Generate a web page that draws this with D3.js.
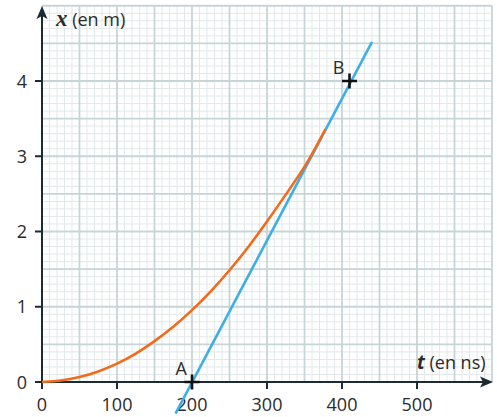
<!DOCTYPE html>
<html>
<head>
<meta charset="utf-8">
<script src="https://cdn.jsdelivr.net/npm/d3@7"></script>
<style>
  body { margin: 0; background: #fff; }
  text { font-family: 'Open Sans', 'Noto Sans', sans-serif; fill: #2b2b2b; }
</style>
</head>
<body>
<svg id="chart" width="497" height="417"></svg>
<script>
// Data
var t_ticks = [0, 100, 200, 300, 400, 500]
var x_ticks = [0, 1, 2, 3, 4]

// orange curve, x(t)
var curve_t = [0, 25, 50, 75, 100, 125, 150, 175, 200, 225, 250, 275, 300, 325, 350, 364, 378]
var curve_x = [0, 0.015, 0.06, 0.135, 0.24, 0.37, 0.54, 0.73, 0.95, 1.2, 1.48, 1.79, 2.13, 2.49, 2.85, 3.1, 3.36]

// blue tangent line (ends)
var tangent_t = [178, 440]
var tangent_x = [-0.42, 4.52]

// marked points
var point_names = ['A', 'B']
var point_t = [200, 410]
var point_x = [0, 4]

// Scales
var t_scale = d3.scaleLinear().domain([0, 600]).range([42, 492])
var x_scale = d3.scaleLinear().domain([0, 5]).range([382, 5.75])

var svg = d3.select('#chart')

// Grid: minor then major
var minor_t = d3.range(0, 601, 10)
var minor_x = d3.range(0, 5.001, 0.1)
var major_t = d3.range(0, 601, 50)
var major_x = d3.range(0, 5.001, 0.5)

var grid = svg.append('g')
function draw_grid(t_vals, x_vals, color, width) {
  grid.selectAll(null).data(t_vals).enter().append('line')
    .attr('x1', d => t_scale(d)).attr('x2', d => t_scale(d))
    .attr('y1', x_scale(0)).attr('y2', x_scale(5))
    .attr('stroke', color).attr('stroke-width', width)
  grid.selectAll(null).data(x_vals).enter().append('line')
    .attr('x1', t_scale(0)).attr('x2', t_scale(600))
    .attr('y1', d => x_scale(d)).attr('y2', d => x_scale(d))
    .attr('stroke', color).attr('stroke-width', width)
}
draw_grid(minor_t, minor_x, '#e1e9eb', 1)
draw_grid(major_t, major_x, '#c8d5d8', 1.8)

// Axes
var axis_color = '#1c2b33'
var axes = svg.append('g')
axes.append('line')
  .attr('x1', t_scale(0)).attr('x2', 484)
  .attr('y1', x_scale(0)).attr('y2', x_scale(0))
  .attr('stroke', axis_color).attr('stroke-width', 2)
axes.append('line')
  .attr('x1', t_scale(0)).attr('x2', t_scale(0))
  .attr('y1', x_scale(0) + 1).attr('y2', 13)
  .attr('stroke', axis_color).attr('stroke-width', 2)

// arrow heads
var ox = t_scale(0), oy = x_scale(0)
axes.append('path')
  .attr('d', 'M493,' + oy + ' L480,' + (oy - 5.5) + ' L483,' + oy + ' L480,' + (oy + 5.5) + ' Z')
  .attr('fill', axis_color)
axes.append('path')
  .attr('d', 'M' + ox + ',6 L' + (ox - 5.5) + ',19 L' + ox + ',16 L' + (ox + 5.5) + ',19 Z')
  .attr('fill', axis_color)

// ticks
axes.selectAll(null).data(t_ticks).enter().append('line')
  .attr('x1', d => t_scale(d)).attr('x2', d => t_scale(d))
  .attr('y1', oy).attr('y2', oy + 7)
  .attr('stroke', axis_color).attr('stroke-width', 2)
axes.selectAll(null).data(x_ticks).enter().append('line')
  .attr('x1', ox - 7).attr('x2', ox)
  .attr('y1', d => x_scale(d)).attr('y2', d => x_scale(d))
  .attr('stroke', axis_color).attr('stroke-width', 2)

// tick labels
axes.selectAll(null).data(t_ticks).enter().append('text')
  .text(d => d)
  .attr('x', d => t_scale(d))
  .attr('y', 411)
  .attr('text-anchor', 'middle')
  .style('font-size', '18px')
axes.selectAll(null).data(x_ticks).enter().append('text')
  .text(d => d)
  .attr('x', 27)
  .attr('y', d => x_scale(d) + 6.5)
  .attr('text-anchor', 'end')
  .style('font-size', '18px')

// axis titles
var x_title = svg.append('text').attr('x', 56).attr('y', 26).style('font-size', '18px')
x_title.append('tspan').text('x')
  .style('font-family', "'Liberation Serif', serif")
  .style('font-style', 'italic').style('font-weight', 'bold').style('font-size', '23px')
x_title.append('tspan').text(' (en m)')

var t_title = svg.append('text').attr('x', 417).attr('y', 369).style('font-size', '18px')
t_title.append('tspan').text('t')
  .style('font-style', 'italic').style('font-weight', 'bold').style('font-size', '19px')
t_title.append('tspan').text(' (en ns)')

// Curves
var tangent_data = d3.zip(tangent_t, tangent_x)
svg.append('path')
  .datum(tangent_data)
  .attr('d', d3.line().x(d => t_scale(d[0])).y(d => x_scale(d[1])))
  .attr('fill', 'none')
  .attr('stroke', '#3eaee9')
  .attr('stroke-width', 2.6)

var curve_data = d3.zip(curve_t, curve_x)
svg.append('path')
  .datum(curve_data)
  .attr('d', d3.line().curve(d3.curveBasis).x(d => t_scale(d[0])).y(d => x_scale(d[1])))
  .attr('fill', 'none')
  .attr('stroke', '#f26a1b')
  .attr('stroke-width', 2.6)

// Points A, B
var points = point_names.map((n, i) => ({name: n, t: point_t[i], x: point_x[i]}))
var pt = svg.selectAll('.pt').data(points).enter().append('g')
  .attr('class', 'pt')
  .attr('transform', d => 'translate(' + t_scale(d.t) + ',' + x_scale(d.x) + ')')
pt.append('path')
  .attr('d', 'M-7.5,0 H7.5 M0,-7.5 V7.5')
  .attr('stroke', '#111').attr('stroke-width', 2.6)
pt.append('text')
  .text(d => d.name)
  .attr('x', -5)
  .attr('y', -7)
  .attr('text-anchor', 'end')
  .style('font-size', '18px')
</script>
</body>
</html>
